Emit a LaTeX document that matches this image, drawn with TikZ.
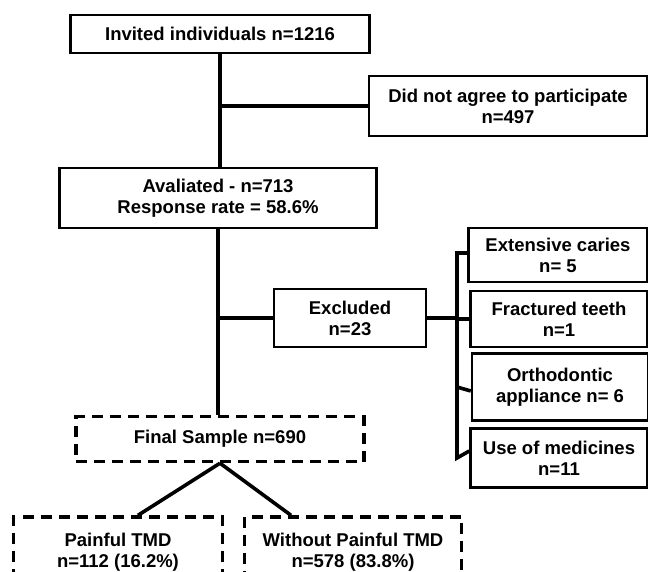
\documentclass[tikz,border=0pt]{standalone}
\usepackage{fontspec}
\setmainfont{Liberation Sans}
\usepackage{tikz}
\usetikzlibrary{positioning,calc}

\begin{document}
\begin{tikzpicture}[
  x=1pt, y=-1pt,
  every node/.style={font=\bfseries\fontsize{18.5}{21}\selectfont, align=center},
  box/.style={draw, line width=2.4pt, inner sep=2pt},
  dbox/.style={box, line width=3.4pt, dash pattern=on 11pt off 7pt},
  link/.style={line width=3.6pt}
]
\useasboundingbox (0,0) rectangle (648,572);

\node[box, minimum width=299, minimum height=38] (invited) at (220,34) {Invited individuals n=1216};
\node[box, minimum width=278, minimum height=60] (refused) at (508,106) {Did not agree to participate\\n=497};
\node[box, minimum width=317, minimum height=60] (evaluated) at (218,198) {Avaliated - n=713\\Response rate = 58.6\%};
\node[box, minimum width=152, minimum height=58] (excluded) at (350,318) {Excluded\\n=23};

\node[box, minimum width=179, minimum height=54] (caries) at (558,255) {Extensive caries\\n= 5};
\node[box, minimum width=177, minimum height=56] (fractured) at (559,319) {Fractured teeth\\n=1};
\node[box, minimum width=176, minimum height=67] (ortho) at (560,387) {Orthodontic\\appliance n= 6};
\node[box, minimum width=177, minimum height=59] (medicines) at (559,458) {Use of medicines\\n=11};

\node[dbox, minimum width=288, minimum height=45] (final) at (220,439) {Final Sample n=690};
\node[dbox, minimum width=209, minimum height=70] (painful) at (118,552) {Painful TMD\\n=112 (16.2\%)};
\node[dbox, minimum width=217, minimum height=70] (nopain) at (353,552) {Without Painful TMD\\n=578 (83.8\%)};

% main line
\draw[link] (invited.south) -- (invited.south |- evaluated.north);
\draw[link] (invited.south |- refused.west) -- (refused.west);
\draw[link] (evaluated.south) -- (evaluated.south |- final.north);
\draw[link] (evaluated.south |- excluded.west) -- (excluded.west);

% exclusion reasons
\coordinate (bar) at (457,318);
\draw[link] (excluded.east) -- (bar);
\draw[link] ([yshift=2]caries.west) -| (bar |- medicines.west) -- ([yshift=7]medicines.west);
\draw[link] (bar |- fractured.west) -- (fractured.west);
\draw[link] (bar |- ortho.west) -- ([yshift=-4]ortho.west);

% groups
\draw[link] (final.south) -- ([xshift=20]painful.north);
\draw[link] (final.south) -- ([xshift=-62]nopain.north);
\end{tikzpicture}
\end{document}
